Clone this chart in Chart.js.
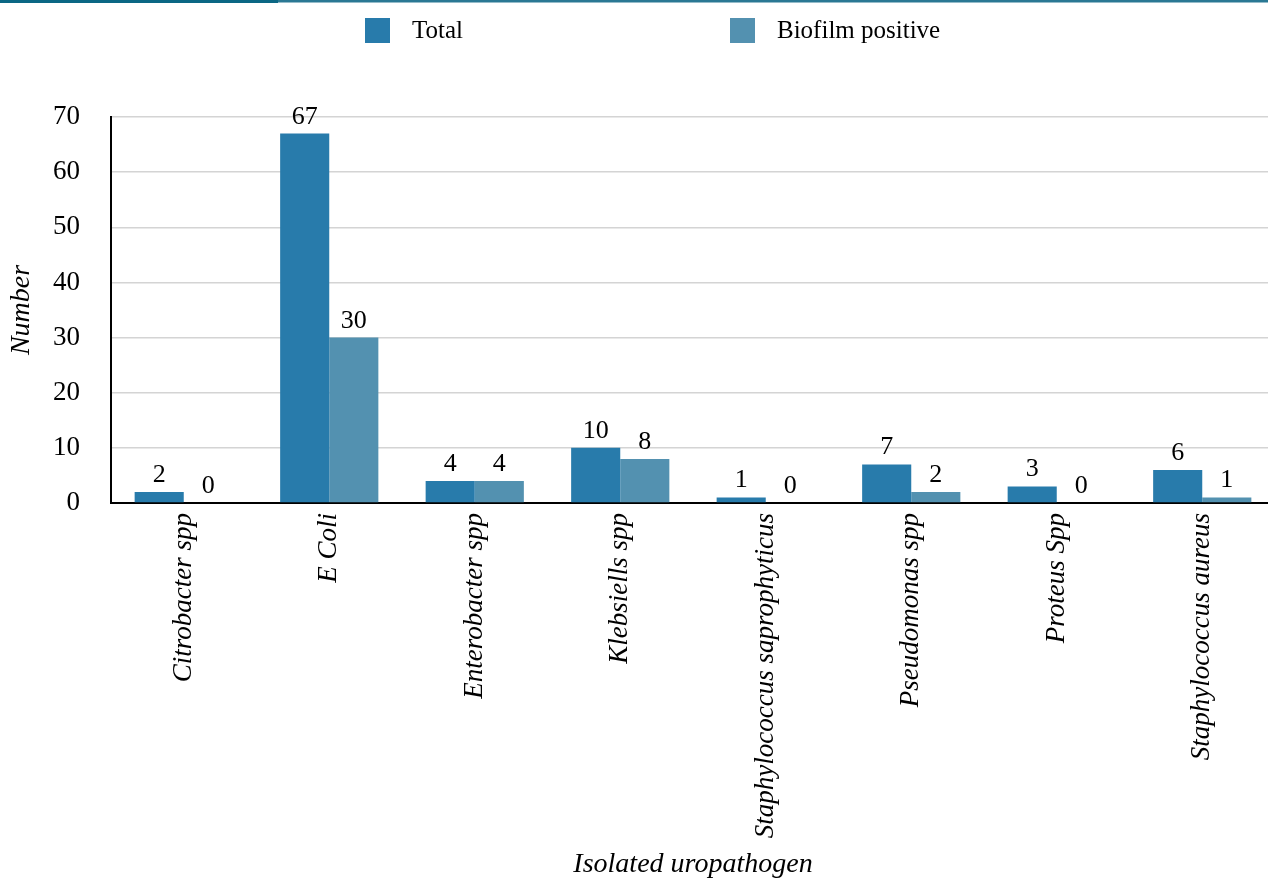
<!DOCTYPE html>
<html>
<head>
<meta charset="utf-8">
<title>Isolated uropathogens and biofilm formation</title>
<script src="https://cdn.jsdelivr.net/npm/chart.js@4.4.1/dist/chart.umd.min.js"></script>
<style>
  html, body { margin: 0; padding: 0; background: #ffffff; overflow: hidden; }
  #wrap { width: 1268px; height: 881px; overflow: hidden; }
  #chart { display: block; }
</style>
</head>
<body>
<div id="wrap"><canvas id="chart" width="1275" height="881"></canvas></div>
<script>
// Isolated uropathogens: total count and number that formed biofilm
const categories = [
  'Citrobacter spp',
  'E Coli',
  'Enterobacter spp',
  'Klebsiells spp',
  'Staphylococcus saprophyticus',
  'Pseudomonas spp',
  'Proteus Spp',
  'Staphylococcus aureus'
];
const totalCounts = [2, 67, 4, 10, 1, 7, 3, 6];
const biofilmPositive = [0, 30, 4, 8, 0, 2, 0, 1];
const seriesNames = ['Total', 'Biofilm positive'];
const yTicks = [0, 10, 20, 30, 40, 50, 60, 70];

const SERIF = "'Liberation Serif', 'Times New Roman', serif";
const colTotal = '#287bab';
const colBiofilm = '#5391b0';

// Header rule across the top of the figure
const headerRule = {
  id: 'headerRule',
  beforeDraw(chart) {
    const ctx = chart.ctx;
    ctx.save();
    ctx.fillStyle = '#0b6784';
    ctx.fillRect(0, 0, 278, 3);
    ctx.fillStyle = '#2a7894';
    ctx.fillRect(278, 0, chart.width - 278, 2.5);
    ctx.restore();
  }
};

// Legend row above the plot, built from the datasets
const topLegend = {
  id: 'topLegend',
  afterDraw(chart) {
    const ctx = chart.ctx;
    const slots = [365, 730];
    ctx.save();
    ctx.font = '25px ' + SERIF;
    ctx.textBaseline = 'middle';
    ctx.textAlign = 'left';
    chart.data.datasets.forEach((ds, i) => {
      const x = slots[i];
      ctx.fillStyle = ds.backgroundColor;
      ctx.fillRect(x, 18, 25, 25);
      ctx.fillStyle = '#000';
      ctx.fillText(ds.label, x + 47, 31);
    });
    ctx.restore();
  }
};

// Value written above each bar
const barValues = {
  id: 'barValues',
  afterDatasetsDraw(chart) {
    const ctx = chart.ctx;
    ctx.save();
    ctx.font = '26px ' + SERIF;
    ctx.fillStyle = '#000';
    ctx.textAlign = 'center';
    ctx.textBaseline = 'alphabetic';
    chart.data.datasets.forEach((ds, di) => {
      const meta = chart.getDatasetMeta(di);
      meta.data.forEach((bar, i) => {
        ctx.fillText(String(ds.data[i]), bar.x, bar.y - 10);
      });
    });
    ctx.restore();
  }
};

new Chart(document.getElementById('chart'), {
  type: 'bar',
  data: {
    labels: categories,
    datasets: [
      { label: seriesNames[0], data: totalCounts, backgroundColor: colTotal,
        borderWidth: 0, categoryPercentage: 0.675, barPercentage: 1.0 },
      { label: seriesNames[1], data: biofilmPositive, backgroundColor: colBiofilm,
        borderWidth: 0, categoryPercentage: 0.675, barPercentage: 1.0 }
    ]
  },
  options: {
    responsive: false,
    animation: false,
    layout: { padding: { top: 117, right: 0, bottom: 0, left: 0 } },
    plugins: {
      legend: { display: false },
      tooltip: { enabled: false }
    },
    scales: {
      x: {
        grid: { display: false, drawTicks: false },
        border: { display: true, color: '#000', width: 2 },
        ticks: {
          color: '#000',
          font: { family: SERIF, size: 27, style: 'italic' },
          minRotation: 90,
          maxRotation: 90,
          autoSkip: false,
          padding: 10
        },
        title: {
          display: true,
          text: 'Isolated uropathogen',
          color: '#000',
          font: { family: SERIF, size: 28, style: 'italic' },
          padding: { top: 0, bottom: 0 }
        },
        afterFit(scale) { scale.height = 378; }
      },
      y: {
        min: 0,
        max: 70,
        afterBuildTicks(scale) { scale.ticks = yTicks.map(v => ({ value: v })); },
        grid: { color: '#d4d4d4', lineWidth: 1.5, drawTicks: false },
        border: { display: true, color: '#000', width: 2 },
        ticks: {
          color: '#000',
          font: { family: SERIF, size: 27 },
          padding: 31
        },
        title: {
          display: true,
          text: 'Number',
          color: '#000',
          font: { family: SERIF, size: 28, style: 'italic' },
          padding: { top: 5, bottom: 0 }
        },
        afterFit(scale) { scale.width = 111; }
      }
    }
  },
  plugins: [headerRule, topLegend, barValues]
});
</script>
</body>
</html>
